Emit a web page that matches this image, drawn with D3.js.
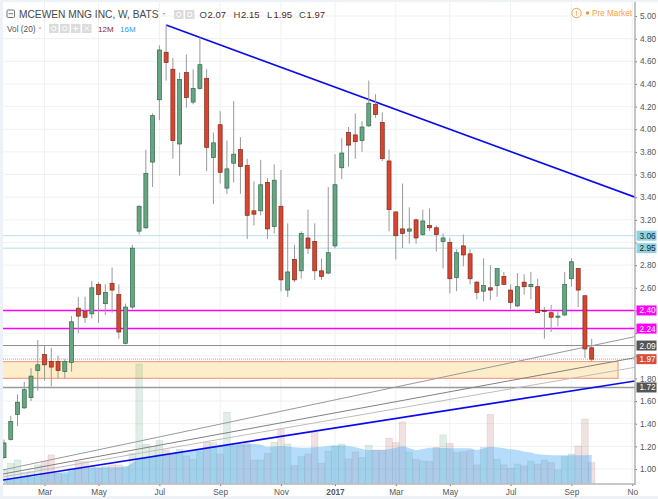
<!DOCTYPE html>
<html><head><meta charset="utf-8">
<script src="https://cdn.jsdelivr.net/npm/d3@7/dist/d3.min.js"></script>
<style>html,body{margin:0;padding:0;background:#fff}svg{display:block}text{font-family:"Liberation Sans",Arial,sans-serif}</style>
</head><body><svg id="c" width="658" height="499"></svg>
<script>
const opens=[1.10,1.26,1.48,1.54,1.63,1.87,2.01,1.95,1.95,1.86,1.94,2.42,2.39,2.37,2.63,2.46,2.64,2.54,2.11,2.43,
3.10,3.13,3.71,4.26,4.68,4.53,3.87,4.50,4.24,4.36,4.45,3.75,4.04,3.48,3.70,3.82,3.68,3.28,3.28,3.53,3.14,3.32,2.58,2.85,2.75,3.04,3.01,2.75,2.73,2.97,
3.66,3.97,3.95,3.90,4.03,4.22,4.06,3.72,3.27,3.12,3.10,3.20,3.07,3.15,3.13,3.01,3.00,2.69,2.97,2.90,2.65,2.57,2.60,2.62,2.70,2.58,2.44,2.65,2.61,2.61,2.40,2.38,2.34,2.36,2.68,2.77,2.53,2.07];
const highs=[1.26,1.47,1.66,1.77,1.89,2.14,2.09,2.07,2.00,1.97,2.35,2.52,2.52,2.66,2.65,2.63,2.78,2.63,2.46,2.98,
3.33,3.82,4.14,4.74,4.92,4.63,4.50,4.66,4.53,4.81,4.53,3.97,4.16,3.90,4.25,3.93,3.74,3.54,3.73,3.57,3.69,3.64,3.17,2.98,3.10,3.29,3.17,2.86,3.49,3.78,
3.92,4.02,4.14,4.07,4.43,4.31,4.15,3.82,3.27,3.52,3.31,3.21,3.29,3.30,3.15,3.08,3.04,2.94,3.07,2.94,2.66,2.86,2.80,2.77,2.74,2.63,2.73,2.72,2.74,2.68,2.43,2.45,2.40,2.74,2.86,2.77,2.53,2.15];
const lows=[1.09,1.25,1.38,1.53,1.60,1.69,1.78,1.73,1.80,1.80,1.86,2.20,2.29,2.33,2.29,2.36,2.38,2.15,2.10,2.41,
3.07,3.12,3.49,4.08,4.43,3.74,3.59,4.19,4.22,4.35,3.63,3.34,3.52,3.43,3.53,3.43,3.03,3.15,3.24,3.03,3.08,2.57,2.52,2.65,2.68,2.90,2.67,2.67,2.72,2.95,
3.56,3.67,3.74,3.80,4.02,4.10,3.72,3.10,2.85,2.95,2.99,2.99,3.06,3.10,2.92,2.77,2.55,2.57,2.79,2.63,2.50,2.48,2.49,2.52,2.63,2.41,2.43,2.54,2.50,2.38,2.15,2.21,2.26,2.35,2.61,2.43,1.98,1.95];
const closes=[1.23,1.42,1.59,1.70,1.82,1.92,1.92,1.90,1.87,1.95,2.30,2.35,2.34,2.60,2.54,2.56,2.58,2.21,2.43,2.95,
3.32,3.61,4.12,4.70,4.59,3.90,4.44,4.28,4.36,4.57,3.84,3.88,3.62,3.65,3.78,3.67,3.24,3.25,3.51,3.12,3.55,2.67,2.74,2.67,3.08,2.95,2.75,2.70,2.91,3.51,
3.79,3.86,3.89,4.02,4.23,4.13,3.74,3.29,3.06,3.08,3.12,3.04,3.19,3.13,3.07,3.04,2.68,2.91,2.89,2.68,2.56,2.62,2.58,2.77,2.63,2.47,2.61,2.61,2.63,2.38,2.39,2.34,2.35,2.63,2.83,2.58,2.06,1.97];
const volume=[7.6,11.4,13.3,6.1,6.7,10.5,12.4,16.2,5.7,5.1,8.6,12.4,12.4,9.5,8.6,9.5,10.5,10.5,9.5,17.1,
68,22.2,20.9,24.3,19,17.1,19.4,15.6,13.7,18,23.4,23.2,16.7,40.5,21.3,21.9,22.8,13.3,13.3,17.1,23.4,31,22.4,10.1,15.2,16.7,28.9,11.4,18.4,21.3,
22.4,13.9,17.9,14.8,21.7,19,19,25.7,23.2,35,17.9,13.7,12.7,12.4,20.5,27.6,22.8,17.5,18,18.6,10.5,20.5,39.3,13.7,10.5,8.6,11,9.9,12.7,11,13.3,11.8,7.6,15.2,16.7,21.3,36.7,11.8];
const volumeMA=[2.3,2.7,3,3.4,3.8,4.2,5.3,5.7,6.1,6.5,7.2,8.6,8.6,8.9,9.1,9.1,9.1,9.3,9.5,11.4,
14.3,14.8,15.2,16.5,16.7,17.1,17.7,18.1,18.6,19.4,20,20.5,21.3,21.7,22,22.4,22.4,22.4,22,20.9,20.9,21.3,20.9,20.5,20.3,20.3,20.5,20.9,21.3,21.5,
21.5,21.3,20.5,19.6,19,19,19,19.6,20.3,21.1,20,19,19.6,20.3,20.3,20.1,20,20,20,20,19,20,20.7,20.5,20,19.4,19,18.2,17.5,16.5,16.3,16,16,16,16,16,16,16.1];
const priceTicks=[1.0,1.2,1.4,1.6,1.8,2.0,2.2,2.4,2.6,2.8,3.0,3.2,3.4,3.6,3.8,4.0,4.2,4.4,4.6,4.8,5.0];
const coveredTicks=[2.0,2.2,2.4,3.0];
const timeTicks=[6,14,23,32,41,49,58,66,75,84,93];
const timeLabels=["Mar","May","Jul","Sep","Nov","2017","Mar","May","Jul","Sep","No"];
const levelValues=[3.06,2.95,2.40,2.24,2.09,1.72];
const levelColors=["#b5e0ea","#b5e0ea","#ff00ff","#ff00ff","#8c8c8c","#9a9a9a"];
const levelWidths=[1,1,1.6,1.6,1,1.4];
const plateValues=[3.06,2.95,2.40,2.24,2.09,1.97,1.72];
const plateLabels=["3.06","2.95","2.40","2.24","2.09","1.97","1.72"];
const plateFills=["#8ed2e4","#8ed2e4","#ff00ff","#ff00ff","#555555","#d5503c","#555555"];
const plateText=["#222","#222","#fff","#fff","#fff","#fff","#fff"];
const trendFrom=[[24,4.92],[-0.15,0.903],[-0.15,0.992],[-0.15,0.956],[-0.15,0.930]];
const trendTo=[[93.41,3.40],[93.41,1.777],[93.41,2.169],[93.41,1.983],[93.41,1.898]];
const trendColors=["#0a0aee","#0a0aee","#999999","#808080","#bdbdbd"];
const trendWidths=[1.6,1.6,1,1,1];
const zoneIndex=[-1,90.9];
const zonePrice=[1.948,1.801];

const W=658,H=499,pL=3,pR=635,pT=2,pB=484;
const svg=d3.select("#c");
const x=d3.scaleLinear().domain([0,87]).range([4,591.7]);
const y=d3.scaleLinear().domain([1,5]).range([469,16]);
const v=d3.scaleLinear().domain([0,10]).range([483.3,465.76]);
const n=closes.length;
const idx=d3.range(n);

svg.append("rect").attr("width",W).attr("height",H).attr("fill","#eef1f6");
svg.append("rect").attr("x",pL).attr("y",pT).attr("width",W-pL).attr("height",496-pT).attr("fill","#fff");
svg.append("defs").append("clipPath").attr("id","plot").append("rect").attr("x",pL).attr("y",pT).attr("width",pR-pL).attr("height",pB-pT);
const plot=svg.append("g").attr("clip-path","url(#plot)");

// grid
plot.append("g").selectAll("line").data(priceTicks).join("line")
 .attr("x1",pL).attr("x2",pR).attr("y1",d=>y(d)).attr("y2",d=>y(d)).attr("stroke","#eff1f2").attr("stroke-width",1);
plot.append("g").selectAll("line").data(timeTicks).join("line")
 .attr("x1",d=>x(d)).attr("x2",d=>x(d)).attr("y1",pT).attr("y2",pB).attr("stroke","#eff1f2").attr("stroke-width",1);

// zone
plot.append("rect").attr("x",x(zoneIndex[0])).attr("width",x(zoneIndex[1])-x(zoneIndex[0]))
 .attr("y",y(zonePrice[0])).attr("height",y(zonePrice[1])-y(zonePrice[0]))
 .attr("fill","#fdeec9").attr("stroke","#f58f7c").attr("stroke-width",1);

// volume
const bw=6.755;
plot.append("g").selectAll("rect").data(idx).join("rect")
 .attr("x",i=>x(i)-bw/2+0.1).attr("width",bw-0.2).attr("y",i=>v(volume[i])).attr("height",i=>v(0)-v(volume[i]))
 .attr("fill",i=>closes[i]>=opens[i]?"rgba(107,165,131,0.2)":"rgba(180,110,100,0.2)")
 .attr("stroke",i=>closes[i]>=opens[i]?"rgba(107,165,131,0.22)":"rgba(180,110,100,0.2)").attr("stroke-width",0.7);
const area=d3.area().x(i=>x(i)).y0(v(0)).y1(i=>v(volumeMA[i])).curve(d3.curveMonotoneX);
plot.append("path").datum(idx).attr("d",area).attr("fill","rgba(60,165,245,0.38)");

// levels
plot.append("g").selectAll("line").data(levelValues).join("line")
 .attr("x1",pL).attr("x2",pR).attr("y1",d=>y(d)).attr("y2",d=>y(d))
 .attr("stroke",(d,i)=>levelColors[i]).attr("stroke-width",(d,i)=>levelWidths[i]);
plot.append("line").attr("x1",pL).attr("x2",pR).attr("y1",y(closes[n-1])).attr("y2",y(closes[n-1]))
 .attr("stroke","#f2a79b").attr("stroke-width",1.4).attr("stroke-dasharray","1 1");

// trend lines
plot.append("g").selectAll("line").data(trendFrom).join("line")
 .attr("x1",d=>x(d[0])).attr("y1",d=>y(d[1]))
 .attr("x2",(d,i)=>x(trendTo[i][0])).attr("y2",(d,i)=>y(trendTo[i][1]))
 .attr("stroke",(d,i)=>trendColors[i]).attr("stroke-width",(d,i)=>trendWidths[i]);

// candles
const cg=plot.append("g");
cg.selectAll("line").data(idx).join("line")
 .attr("x1",i=>x(i)).attr("x2",i=>x(i)).attr("y1",i=>y(highs[i])).attr("y2",i=>y(lows[i]))
 .attr("stroke","#999").attr("stroke-width",1);
cg.selectAll("rect").data(idx).join("rect")
 .attr("x",i=>x(i)-2).attr("width",4)
 .attr("y",i=>y(Math.max(opens[i],closes[i])))
 .attr("height",i=>Math.max(1,Math.abs(y(opens[i])-y(closes[i]))))
 .attr("fill",i=>closes[i]>=opens[i]?"#68a583":"#d9452f")
 .attr("stroke",i=>closes[i]>=opens[i]?"#2f6a4a":"#7a2a1c").attr("stroke-width",0.7);

// axes
const yAxis=d3.axisRight(y).tickValues(priceTicks).tickFormat(d=>coveredTicks.includes(d)?"":d3.format(".2f")(d)).tickSize(2).tickPadding(3);
const ya=svg.append("g").attr("transform",`translate(${pR},0)`).call(yAxis);
ya.select(".domain").remove();
ya.selectAll("text").attr("font-size",8.3).attr("fill","#555").attr("font-family","Liberation Sans");
ya.selectAll("line").attr("stroke","#777");
svg.append("line").attr("x1",pR).attr("x2",pR).attr("y1",pT).attr("y2",pB+1).attr("stroke","#b0b0b0").attr("stroke-width",1.5);

const xAxis=d3.axisBottom(x).tickValues(timeTicks).tickFormat((d,i)=>timeLabels[i]).tickSize(2).tickPadding(3);
const xa=svg.append("g").attr("transform",`translate(0,${pB})`).call(xAxis);
xa.select(".domain").remove();
xa.selectAll("text").attr("font-size",8.3).attr("fill","#555").attr("font-family","Liberation Sans")
 .attr("font-weight",(d,i)=>timeLabels[i]==="2017"?"bold":"normal");
xa.selectAll("line").attr("stroke","#777");
svg.append("line").attr("x1",pL).attr("x2",pR).attr("y1",pB).attr("y2",pB).attr("stroke","#b4b4b4").attr("stroke-width",1.6);

// plates
const pg=svg.append("g").selectAll("g").data(plateValues).join("g").attr("transform",d=>`translate(636.5,${y(d)})`);
pg.append("rect").attr("x",0).attr("y",-5).attr("width",20).attr("height",10).attr("fill",(d,i)=>plateFills[i]);
pg.append("text").attr("x",3).attr("y",3).attr("font-size",8.3).attr("fill",(d,i)=>plateText[i]).text((d,i)=>plateLabels[i]);

// header
const hdr=svg.append("g");
hdr.append("rect").attr("x",7).attr("y",10).attr("width",7.5).attr("height",7.5).attr("rx",1).attr("fill","none").attr("stroke","#777");
hdr.append("line").attr("x1",8.5).attr("x2",13).attr("y1",13.7).attr("y2",13.7).attr("stroke","#777");
hdr.append("text").attr("x",19).attr("y",18).attr("font-size",10.2).attr("fill","#4a4a4a").text("MCEWEN MNG INC, W, BATS");
hdr.append("path").attr("d","M162 13l4 0l-2 2z").attr("fill","#bbb");
const iconBox=(px,py)=>{hdr.append("rect").attr("x",px).attr("y",py).attr("width",9.5).attr("height",9).attr("fill","#dcdcdc");
 hdr.append("circle").attr("cx",px+4.75).attr("cy",py+4.5).attr("r",2.2).attr("fill","none").attr("stroke","#fff").attr("stroke-width",1);};
[174,185].forEach(px=>iconBox(px,10));
const ohlcLetters=["O","H","L","C"],ohlcValues=["2.07","2.15","1.95","1.97"],ohlcX=[199.5,233.5,267,299],ohlcVX=[207.5,241,273.5,306.5];
ohlcLetters.forEach((t,i)=>{
 hdr.append("text").attr("x",ohlcX[i]).attr("y",18).attr("font-size",9.5).attr("fill","#444").text(t);
 hdr.append("text").attr("x",ohlcVX[i]).attr("y",18).attr("font-size",9.5).attr("fill","#5a1f17").text(ohlcValues[i]);
});
hdr.append("text").attr("x",7).attr("y",32).attr("font-size",8.3).attr("fill","#555").text("Vol (20)");
hdr.append("path").attr("d","M38 27.5l4 0l-2 2z").attr("fill","#bbb");
[49,60].forEach(px=>iconBox(px,24));
[71,82].forEach(px=>hdr.append("rect").attr("x",px).attr("y",24).attr("width",9.5).attr("height",9).attr("fill","#dcdcdc"));
hdr.append("path").attr("d","M75.7 26v5M73.2 28.5h5M84.5 26.2l4.5 4.5M89 26.2l-4.5 4.5").attr("stroke","#fff").attr("fill","none");
hdr.append("text").attr("x",98).attr("y",32).attr("font-size",8).attr("fill","#8a2a2a").text("12M");
hdr.append("text").attr("x",120).attr("y",32).attr("font-size",8).attr("fill","#2f9ae8").text("16M");
hdr.append("circle").attr("cx",576.5).attr("cy",13).attr("r",4.7).attr("fill","#fff").attr("stroke","#f7a04a").attr("stroke-width",1);
hdr.append("text").attr("x",576.5).attr("y",16).attr("text-anchor","middle").attr("font-size",8).attr("fill","#f7913a").text("!");
hdr.append("circle").attr("cx",587.5).attr("cy",13).attr("r",1.7).attr("fill","#f7913a");
hdr.append("text").attr("x",592).attr("y",16).attr("font-size",8.2).attr("fill","#f7a04a").text("Pre Market");
</script></body></html>
